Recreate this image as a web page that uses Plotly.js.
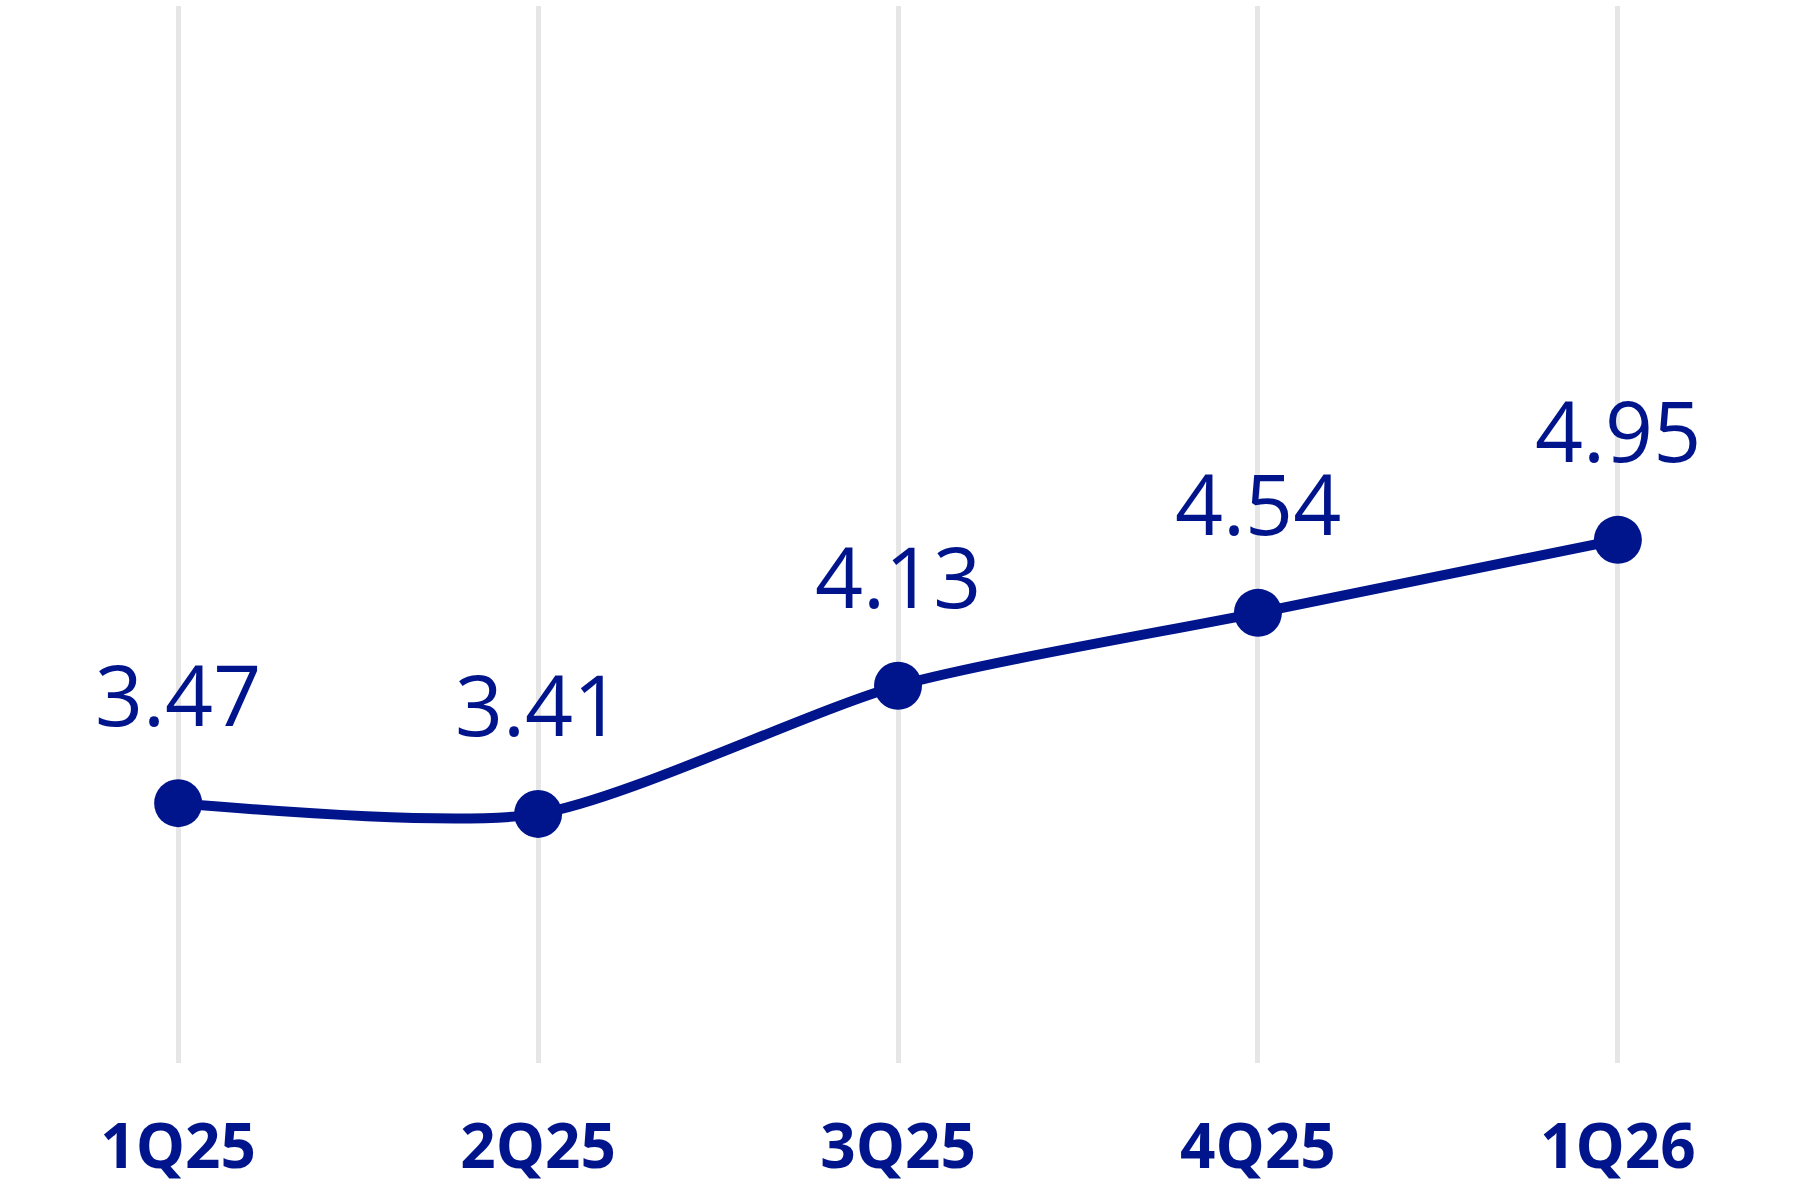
<!DOCTYPE html>
<html>
<head>
<meta charset="utf-8">
<script src="https://cdn.plot.ly/plotly-3.0.1.min.js"></script>
<style>
  html, body { margin: 0; padding: 0; background: #fff; }
  #chart { width: 1800px; height: 1200px; }
</style>
</head>
<body>
<div id="chart"></div>
<script>
  // Quarterly values.
  const quarters = ["1Q25", "2Q25", "3Q25", "4Q25", "1Q26"];
  const values = [3.47, 3.41, 4.13, 4.54, 4.95];
  const valueLabels = ["3.47", "3.41", "4.13", "4.54", "4.95"];

  const BLUE = "#00148c";
  const FONT = "Open Sans, Inter, sans-serif";

  const trace = {
    type: "scatter",
    mode: "lines+markers",
    x: quarters,
    y: values,
    line: { color: BLUE, width: 10, shape: "spline", smoothing: 0.7 },
    marker: { color: BLUE, size: 48 },
    hoverinfo: "skip",
    cliponaxis: false,
  };

  // Value labels sit a fixed distance above each point.
  const annotations = quarters.map((q, i) => ({
    x: q,
    y: values[i],
    text: valueLabels[i],
    showarrow: false,
    yanchor: "middle",
    xanchor: "center",
    yshift: 110,
    font: { family: FONT, size: 84, color: BLUE },
  }));

  const layout = {
    width: 1800,
    height: 1200,
    margin: { l: 0, r: 0, t: 6, b: 137 },
    paper_bgcolor: "#fff",
    plot_bgcolor: "#fff",
    showlegend: false,
    xaxis: {
      type: "category",
      range: [-0.495, 4.506],
      showgrid: true,
      gridcolor: "#e6e6e6",
      gridwidth: 5,
      zeroline: false,
      showline: false,
      ticks: "",
      ticklabelstandoff: 42,
      tickfont: { family: FONT, size: 62, color: BLUE, weight: "bold" },
      fixedrange: true,
    },
    yaxis: {
      range: [2.01, 7.95],
      visible: false,
      showgrid: false,
      zeroline: false,
      fixedrange: true,
    },
    annotations,
  };

  Plotly.newPlot("chart", [trace], layout, { staticPlot: true, displayModeBar: false });
</script>
</body>
</html>
